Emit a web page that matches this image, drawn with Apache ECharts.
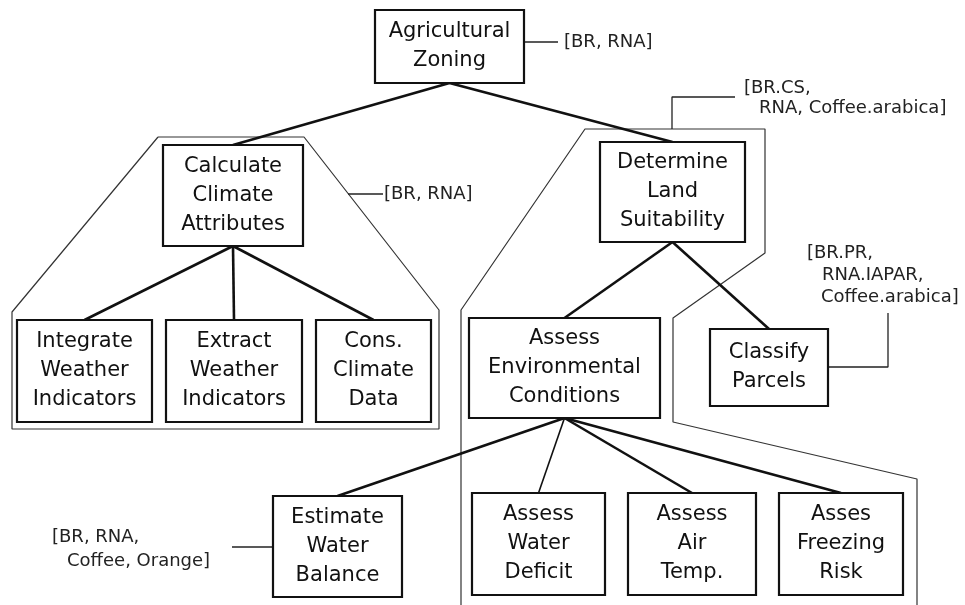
<!DOCTYPE html>
<html><head><meta charset="utf-8">
<script src="https://cdn.jsdelivr.net/npm/echarts@6/dist/echarts.min.js"></script>
<style>html,body{margin:0;padding:0;background:#fff}#c{width:965px;height:605px}</style>
</head><body><div id="c"></div>
<script>
// Node names (tree of tasks)
const nodeNames = [
  'Agricultural\nZoning',
  'Calculate\nClimate\nAttributes',
  'Determine\nLand\nSuitability',
  'Integrate\nWeather\nIndicators',
  'Extract\nWeather\nIndicators',
  'Cons.\nClimate\nData',
  'Assess\nEnvironmental\nConditions',
  'Classify\nParcels',
  'Estimate\nWater\nBalance',
  'Assess\nWater\nDeficit',
  'Assess\nAir\nTemp.',
  'Asses\nFreezing\nRisk'
];
// Node box layout [x1, y1, x2, y2] in diagram units
const nodeBoxes = [
  [375, 10, 524, 83],
  [163, 145, 303, 246],
  [600, 142, 745, 242],
  [17, 320, 152, 422],
  [166, 320, 302, 422],
  [316, 320, 431, 422],
  [469, 318, 660, 418],
  [710, 329, 828, 406],
  [273, 496, 402, 597],
  [472, 493, 605, 595],
  [628, 493, 756, 595],
  [779, 493, 903, 595]
];
// Parent -> child links
const edges = [[0,1],[0,2],[1,3],[1,4],[1,5],[2,6],[2,7],[6,8],[6,9],[6,10],[6,11]];
// Group outline polylines
const groupOutlines = [
  [[158,137],[304,137],[439,310],[439,429],[12,429],[12,312],[158,137]],
  [[461,605],[461,310],[585,129],[765,129],[765,253],[673,318],[673,422],[917,479],[917,605]]
];
// Annotation leader lines
const annotationLeaders = [
  [[524,42],[558,42]],
  [[348,194],[383,194]],
  [[672,129],[672,97],[735,97]],
  [[828,367],[888,367],[888,313]],
  [[232,547],[273,547]]
];
// Annotation texts [text, x, y]
const annotationTexts = [
  ['[BR, RNA]', 564, 42],
  ['[BR, RNA]', 384, 194],
  ['[BR.CS,', 744, 88],
  ['RNA, Coffee.arabica]', 759, 108],
  ['[BR.PR,', 807, 253],
  ['RNA.IAPAR,', 822, 275],
  ['Coffee.arabica]', 821, 297],
  ['[BR, RNA,', 52, 537],
  ['Coffee, Orange]', 67, 561]
];

const FONT = '"DejaVu Sans", "Liberation Sans", Arial, sans-serif';
const thinEdgeIndex = 8; // Assess Environmental Conditions -> Assess Water Deficit
const series = [];
groupOutlines.forEach(pts => series.push({
  type: 'line', data: pts, symbol: 'none', silent: true, z: 1,
  lineStyle: { color: '#333', width: 1.2 }, animation: false
}));
annotationLeaders.forEach(pts => series.push({
  type: 'line', data: pts, symbol: 'none', silent: true, z: 2,
  lineStyle: { color: '#222', width: 1.3 }, animation: false
}));
edges.forEach(([p, c], i) => {
  const pb = nodeBoxes[p], cb = nodeBoxes[c];
  series.push({
    type: 'line', symbol: 'none', silent: true, z: 3, animation: false,
    data: [[(pb[0] + pb[2]) / 2, pb[3]], [(cb[0] + cb[2]) / 2, cb[1]]],
    lineStyle: { color: '#111', width: i === thinEdgeIndex ? 1.6 : 2.6 }
  });
});
series.push({
  type: 'custom', z: 5, animation: false, clip: false,
  data: nodeBoxes,
  renderItem(params, api) {
    const p1 = api.coord([api.value(0), api.value(1)]);
    const p2 = api.coord([api.value(2), api.value(3)]);
    return {
      type: 'rect',
      shape: { x: p1[0], y: p1[1], width: p2[0] - p1[0], height: p2[1] - p1[1] },
      style: { fill: '#fff', stroke: '#111', lineWidth: 2.2 },
      textContent: {
        style: { text: nodeNames[params.dataIndex], font: '21px ' + FONT, fill: '#111',
                 align: 'center', verticalAlign: 'middle', lineHeight: 29 }
      },
      textConfig: { position: 'inside' }
    };
  }
});
series.push({
  type: 'custom', z: 6, animation: false, clip: false,
  data: annotationTexts.map(a => [a[1], a[2]]),
  renderItem(params, api) {
    const p = api.coord([api.value(0), api.value(1)]);
    return {
      type: 'text', x: p[0], y: p[1],
      style: { text: annotationTexts[params.dataIndex][0], font: '18px ' + FONT, fill: '#222',
               textAlign: 'left', textVerticalAlign: 'middle' }
    };
  }
});

const chart = echarts.init(document.getElementById('c'));
chart.setOption({
  backgroundColor: '#fff',
  animation: false,
  grid: { left: 0, right: 0, top: 0, bottom: 0 },
  xAxis: { type: 'value', min: 0, max: 965, show: false },
  yAxis: { type: 'value', min: 0, max: 605, inverse: true, show: false },
  series
});
</script></body></html>
